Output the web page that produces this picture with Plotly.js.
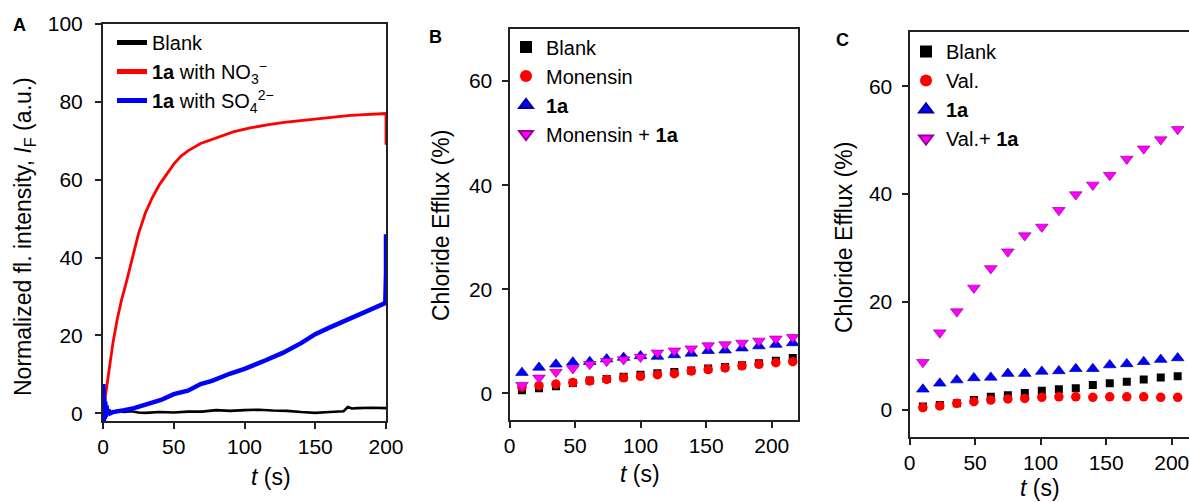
<!DOCTYPE html>
<html>
<head>
<meta charset="utf-8">
<script src="https://cdn.plot.ly/plotly-3.0.1.min.js"></script>
<style>
html, body { margin: 0; padding: 0; overflow: hidden; background: #fff; }
#chart { width: 1210px; height: 502px; }
</style>
</head>
<body>
<div id="chart"></div>
<script>
// ---------- Panel A : fluorescence traces ----------
const tA_blank = [0, 3, 6, 10, 15, 20, 25, 30, 40, 50, 60, 70, 80, 90, 100, 110, 120, 130, 140, 150, 160, 170, 173, 176, 180, 190, 200];
const yA_blank = [0.5, 1.2, 0.2, 0.6, 0.3, 0.5, 0.2, 0.1, 0.3, 0.2, 0.4, 0.4, 0.8, 0.6, 0.8, 0.9, 0.7, 0.6, 0.3, 0.1, 0.3, 0.5, 1.6, 1.2, 1.3, 1.4, 1.3];

const tA_no3 = [0, 1, 2, 3, 5, 7, 10, 13, 16, 18, 20.5, 25, 30, 35, 40, 42.4, 45, 50, 55, 60, 69, 80, 92, 104, 116, 128, 139, 151, 163, 175, 186, 199, 200, 200];
const yA_no3 = [0, 2.6, 5, 7.5, 12.5, 18, 24, 29, 33, 36, 40, 46, 51.5, 55.5, 58.8, 60, 61.6, 64, 66, 67.4, 69.3, 70.8, 72.3, 73.3, 74.1, 74.7, 75.2, 75.7, 76.1, 76.5, 76.7, 76.9, 77, 69];

const tA_so4 = [0, 0.3, 0.6, 0.9, 1.2, 1.6, 2, 2.5, 3, 4, 5, 7, 10, 15, 22, 30, 41, 50, 60, 69, 77, 90, 100, 115, 127, 140, 150, 160, 175, 190, 199.5, 200, 200];
const yA_so4 = [0, 7.5, -2, 4, -1.5, 3, -1, 2, 0, 0.8, 0, 0.3, 0.4, 0.8, 1.3, 2.2, 3.4, 4.9, 5.8, 7.5, 8.3, 10.2, 11.4, 13.6, 15.5, 18, 20.3, 22, 24.4, 26.8, 28.3, 36, 46];

// ---------- Panel B : chloride efflux (monensin) ----------
const tB = [9.5, 22.5, 35.4, 48.3, 61.2, 74.1, 87, 99.9, 112.8, 125.7, 138.6, 151.5, 164.4, 177.3, 190.2, 203.1, 216];
const yB_blank = [0.6, 1.0, 1.4, 2.0, 2.5, 2.8, 3.2, 3.6, 3.9, 4.1, 4.4, 4.8, 5.1, 5.4, 5.8, 6.3, 6.8];
const yB_mon = [1.2, 1.5, 1.8, 2.1, 2.4, 2.7, 3.0, 3.3, 3.6, 3.8, 4.3, 4.6, 4.9, 5.3, 5.6, 5.9, 6.1];
const yB_1a = [4.0, 5.0, 5.6, 6.0, 6.1, 6.6, 6.9, 7.2, 7.1, 7.4, 7.7, 8.2, 8.3, 8.7, 9.1, 9.4, 9.7];
const yB_mon1a = [1.6, 3.0, 4.1, 4.8, 5.6, 6.2, 6.5, 7.0, 7.8, 8.2, 8.6, 9.2, 9.4, 9.7, 10.1, 10.5, 10.8];

// ---------- Panel C : chloride efflux (valinomycin) ----------
const tC = [10.2, 23.1, 36.1, 49.1, 62, 75, 87.9, 100.9, 113.9, 126.8, 139.8, 152.7, 165.7, 178.6, 191.6, 204.5];
const yC_blank = [0.6, 0.9, 1.2, 1.8, 2.4, 2.7, 3.1, 3.5, 3.8, 4.0, 4.6, 4.9, 5.2, 5.6, 6.0, 6.2];
const yC_val = [0.4, 0.7, 1.2, 1.5, 1.8, 2.0, 2.1, 2.3, 2.4, 2.4, 2.3, 2.4, 2.4, 2.4, 2.3, 2.3];
const yC_1a = [3.8, 4.9, 5.5, 5.9, 6.0, 6.7, 6.7, 7.1, 7.2, 7.6, 7.6, 8.3, 8.5, 8.9, 9.3, 9.6];
const yC_val1a = [8.8, 14.3, 18.2, 22.6, 26.2, 29.3, 32.3, 33.9, 37.0, 39.9, 41.7, 43.5, 46.5, 48.4, 50.1, 52.0];

// tick labels
const ticksA_x = [0, 50, 100, 150, 200];
const ticksA_y = [0, 20, 40, 60, 80, 100];
const ticksBC_x = [0, 50, 100, 150, 200];
const ticksBC_y = [0, 20, 40, 60];

// legend labels
const namesA = ['Blank', '<b>1a</b> with NO<sub>3</sub><sup>\u2212</sup>', '<b>1a</b> with SO<sub>4</sub><sup>2\u2212</sup>'];
const namesB = ['Blank', 'Monensin', '<b>1a</b>', 'Monensin + <b>1a</b>'];
const namesC = ['Blank', 'Val.', '<b>1a</b>', 'Val.+ <b>1a</b>'];

// ---------- layout helpers ----------
const W = 1210, H = 502;
const fx = p => p / W;
const fy = p => 1 - p / H;
const FONT = '"Liberation Sans", Arial, sans-serif';

const black = '#000000', red = '#ff0000', blue = '#0000ff', magenta = '#ff00ff';

function markerTrace(x, y, name, sym, color, size, lineColor, xa, ya, lg) {
  return {
    x: x, y: y, name: name, type: 'scatter', mode: 'markers',
    xaxis: xa, yaxis: ya, legend: lg, cliponaxis: true,
    marker: { symbol: sym, color: color, size: size, line: { color: lineColor || color, width: lineColor ? 0.7 : 0 } }
  };
}

const traces = [
  { x: tA_blank, y: yA_blank, name: namesA[0], type: 'scatter', mode: 'lines', line: { color: black, width: 2.6 }, xaxis: 'x', yaxis: 'y', legend: 'legend' },
  { x: tA_no3, y: yA_no3, name: namesA[1], type: 'scatter', mode: 'lines', line: { color: red, width: 2.8 }, xaxis: 'x', yaxis: 'y', legend: 'legend' },
  { x: tA_so4, y: yA_so4, name: namesA[2], type: 'scatter', mode: 'lines', line: { color: blue, width: 4.5 }, xaxis: 'x', yaxis: 'y', legend: 'legend' },

  markerTrace(tB, yB_blank, namesB[0], 'square', black, 8, null, 'x2', 'y2', 'legend2'),
  markerTrace(tB, yB_mon, namesB[1], 'circle', red, 9.5, null, 'x2', 'y2', 'legend2'),
  markerTrace(tB, yB_1a, namesB[2], 'triangle-up', blue, 11, '#000099', 'x2', 'y2', 'legend2'),
  markerTrace(tB, yB_mon1a, namesB[3], 'triangle-down', magenta, 11, '#990099', 'x2', 'y2', 'legend2'),

  markerTrace(tC, yC_blank, namesC[0], 'square', black, 8, null, 'x3', 'y3', 'legend3'),
  markerTrace(tC, yC_val, namesC[1], 'circle', red, 9.5, null, 'x3', 'y3', 'legend3'),
  markerTrace(tC, yC_1a, namesC[2], 'triangle-up', blue, 11, '#000099', 'x3', 'y3', 'legend3'),
  markerTrace(tC, yC_val1a, namesC[3], 'triangle-down', magenta, 11, '#990099', 'x3', 'y3', 'legend3')
];

function axis(extra) {
  return Object.assign({
    showline: true, linecolor: '#222', linewidth: 2, mirror: true,
    ticks: 'outside', ticklen: 6, tickwidth: 2, tickcolor: '#222',
    showgrid: false, zeroline: false, fixedrange: true,
    tickfont: { family: FONT, size: 21, color: '#000' }
  }, extra);
}

function legendStyle(x, y) {
  return {
    x: x, y: y, xanchor: 'left', yanchor: 'top',
    bgcolor: 'rgba(0,0,0,0)', borderwidth: 0,
    font: { family: FONT, size: 20, color: '#000' },
    itemsizing: 'constant', tracegroupgap: 0
  };
}

function ann(text, x, y, opts) {
  return Object.assign({
    text: text, x: fx(x), y: fy(y), xref: 'paper', yref: 'paper',
    showarrow: false, xanchor: 'center', yanchor: 'middle',
    font: { family: FONT, size: 23, color: '#000' }
  }, opts || {});
}

const layout = {
  width: W, height: H,
  margin: { l: 0, r: 0, t: 0, b: 0 },
  paper_bgcolor: '#fff', plot_bgcolor: '#fff',
  font: { family: FONT, color: '#000' },
  xaxis: axis({ domain: [fx(103), fx(386)], range: [0, 200], tickvals: ticksA_x, anchor: 'y' }),
  yaxis: axis({ domain: [fy(421), fy(24)], range: [-2, 100], tickvals: ticksA_y, anchor: 'x', ticklabelstandoff: 8 }),
  xaxis2: axis({ domain: [fx(509.5), fx(798)], range: [0, 220], tickvals: ticksBC_x, anchor: 'y2' }),
  yaxis2: axis({ domain: [fy(419.5), fy(29)], range: [-5, 70], tickvals: ticksBC_y, anchor: 'x2', ticklabelstandoff: 5 }),
  xaxis3: axis({ domain: [fx(909.5), fx(1198)], range: [0, 220], tickvals: ticksBC_x, anchor: 'y3' }),
  yaxis3: axis({ domain: [fy(436.7), fy(32.3)], range: [-5, 70], tickvals: ticksBC_y, anchor: 'x3', ticklabelstandoff: 5 }),
  legend: legendStyle(fx(112), fy(23)),
  legend2: legendStyle(fx(506), fy(27.5)),
  legend3: legendStyle(fx(906), fy(32)),
  annotations: [
    ann('<b>A</b>', 19, 25, { font: { family: FONT, size: 18, color: '#000' } }),
    ann('<b>B</b>', 435, 37, { font: { family: FONT, size: 18, color: '#000' } }),
    ann('<b>C</b>', 842, 40, { font: { family: FONT, size: 18, color: '#000' } }),
    ann('Normalized fl. intensity, <i>I</i><sub>F</sub> (a.u.)', 24, 237, { textangle: -90 }),
    ann('<i>t</i> (s)', 271, 477),
    ann('Chloride Efflux (%)', 441, 226, { textangle: -90 }),
    ann('<i>t</i> (s)', 640, 474),
    ann('Chloride Efflux (%)', 844, 238, { textangle: -90 }),
    ann('<i>t</i> (s)', 1040, 488)
  ]
};

Plotly.newPlot('chart', traces, layout, { displayModeBar: false, staticPlot: true });
</script>
</body>
</html>
